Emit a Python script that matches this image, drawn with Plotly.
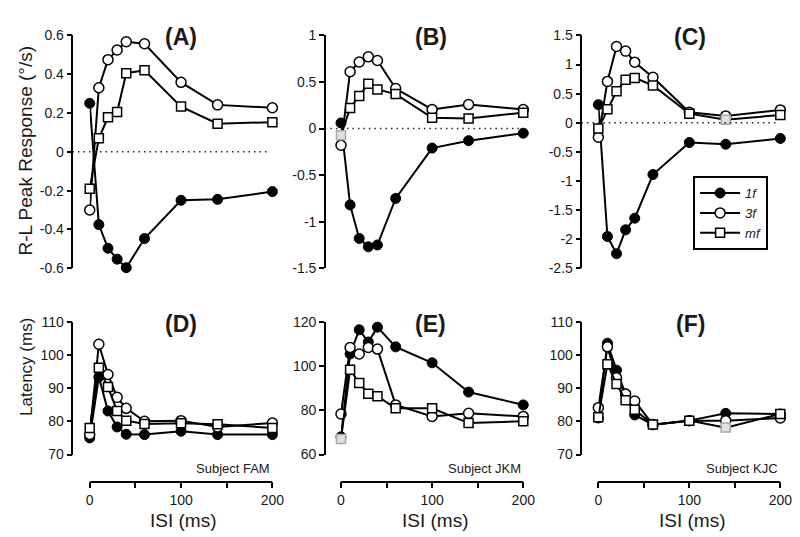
import plotly.graph_objects as go

W, H = 800, 537

# ---------------- data ----------------
isi = [0, 10, 20, 30, 40, 60, 100, 140, 200]

# Panel A (FAM, R-L peak response, deg/s)
A_1f = [0.25, -0.375, -0.497, -0.553, -0.597, -0.447, -0.25, -0.245, -0.205]
A_3f = [-0.30, 0.33, 0.475, 0.525, 0.567, 0.557, 0.358, 0.242, 0.227]
A_mf = [-0.19, 0.07, 0.178, 0.205, 0.405, 0.42, 0.233, 0.145, 0.153]

# Panel B (JKM)
B_1f = [0.06, -0.82, -1.18, -1.27, -1.25, -0.75, -0.21, -0.13, -0.05]
B_3f = [-0.18, 0.61, 0.715, 0.77, 0.73, 0.43, 0.205, 0.257, 0.205]
B_mf = [-0.073, 0.22, 0.35, 0.48, 0.42, 0.37, 0.115, 0.108, 0.17]

# Panel C (KJC)
C_1f = [0.31, -1.955, -2.25, -1.84, -1.64, -0.89, -0.34, -0.37, -0.27]
C_3f = [-0.25, 0.71, 1.31, 1.23, 1.04, 0.78, 0.18, 0.117, 0.22]
C_mf = [-0.10, 0.23, 0.54, 0.74, 0.77, 0.64, 0.156, 0.05, 0.134]

# Panel D (FAM latency, ms)
D_1f = [75, 93.3, 83.1, 78.3, 76.1, 76, 77, 76, 76]
D_3f = [76, 103.2, 94.1, 87.2, 83.9, 80, 80.2, 78.3, 79.5]
D_mf = [78, 96.1, 90.3, 83.1, 80.2, 79.2, 79.4, 79.1, 78]

# Panel E (JKM latency)
E_1f = [68, 105.4, 116.3, 110.8, 117.5, 108.6, 101.4, 88.2, 82.4]
E_3f = [78.3, 108.3, 105.4, 108.3, 107.6, 82.4, 77.2, 78.6, 77.2]
E_mf = [67, 98.3, 92.3, 87.4, 86.3, 80.9, 80.9, 74.2, 75]

# Panel F (KJC latency)
F_1f = [81, 103.5, 95.4, 88.2, 81.9, 79, 80.2, 82.4, 82.2]
F_3f = [84.1, 102.4, 93.1, 88.2, 86.1, 79, 80.2, 80.2, 81]
F_mf = [81.2, 97.2, 91.2, 86.3, 83.5, 79, 80.2, 78.1, 82.2]

series_names = ["1f", "3f", "mf"]
panel_letters = ["A", "B", "C", "D", "E", "F"]
subjects = ["Subject FAM", "Subject JKM", "Subject KJC"]

top_ticks = [
    [-0.6, -0.4, -0.2, 0, 0.2, 0.4, 0.6],
    [-1.5, -1, -0.5, 0, 0.5, 1],
    [-2.5, -2, -1.5, -1, -0.5, 0, 0.5, 1, 1.5],
]
bottom_ticks = [
    [70, 80, 90, 100, 110],
    [60, 80, 100, 120],
    [70, 80, 90, 100, 110],
]
x_ticks = [0, 50, 100, 150, 200]
x_ticklabels = ["0", "", "100", "", "200"]

# gray (flagged) mf points per panel (indices)
gray_mf = {"B": [0], "C": [7], "E": [0], "F": [7]}

panels = {
    "A": [A_1f, A_3f, A_mf], "B": [B_1f, B_3f, B_mf], "C": [C_1f, C_3f, C_mf],
    "D": [D_1f, D_3f, D_mf], "E": [E_1f, E_3f, E_mf], "F": [F_1f, F_3f, F_mf],
}

# ---------------- layout geometry (pixels) ----------------
def px(x):
    return x / W

def py(y):
    return 1 - y / H

col_x = [(79.3, 265.7), (335.7, 521.7), (598.3, 784.0)]
col_yaxis = [61.7, 319.3, 581.0]
row_y = [(20, 260), (315, 452)]
xaxis_line_y = 480

FONT = "Liberation Sans, Arial, sans-serif"

fig = go.Figure()

styles = {
    "1f": dict(symbol="circle", size=10, color="black", line=dict(color="black", width=1)),
    "3f": dict(symbol="circle", size=10, color="white", line=dict(color="black", width=1.5)),
    "mf": dict(symbol="square", size=9, color="white", line=dict(color="black", width=1.5)),
}

for i, letter in enumerate(panel_letters):
    n = i + 1
    for s, vals in zip(series_names, panels[letter]):
        m = dict(styles[s])
        if s == "mf" and letter in gray_mf:
            lc = ["black"] * len(vals)
            fc = ["white"] * len(vals)
            for k in gray_mf[letter]:
                lc[k] = "#a8a8a8"
                fc[k] = "#e0e0e0"
            m["line"] = dict(color=lc, width=1.5)
            m["color"] = fc
        fig.add_trace(go.Scatter(
            x=isi, y=vals, mode="lines+markers",
            line=dict(color="black", width=2),
            marker=m, name=s,
            xaxis=f"x{n}", yaxis=f"y{n}",
            cliponaxis=False,
            showlegend=(letter == "C"),
        ))

layout = dict(
    width=W, height=H, margin=dict(l=0, r=0, t=0, b=0),
    paper_bgcolor="white", plot_bgcolor="white",
    font=dict(family=FONT, color="#1a1a1a", size=14),
    showlegend=True,
    legend=dict(
        x=px(695), y=py(165), xanchor="left", yanchor="top",
        bordercolor="black", borderwidth=2, bgcolor="white",
        font=dict(family=FONT, size=13, style="italic", color="#1a1a1a"),
        tracegroupgap=0, itemwidth=40, entrywidth=82, entrywidthmode="pixels",
    ),
)

annotations = []
shapes = []
for i, letter in enumerate(panel_letters):
    n = i + 1
    r = i // 3
    c = i % 3
    x0, x1 = col_x[c]
    y0, y1 = row_y[r]
    xa = dict(domain=[px(x0), px(x1)], range=[0, 200], showgrid=False, zeroline=False)
    if r == 0:
        xa.update(visible=False, anchor=f"y{n}")
        ticks = top_ticks[c]
    else:
        xa.update(anchor="free", position=py(xaxis_line_y), showline=True,
                  linecolor="black", linewidth=1.5, ticks="outside", ticklen=6,
                  tickwidth=1.5, tickcolor="black", tickvals=x_ticks,
                  ticktext=x_ticklabels, tickfont=dict(size=14, family=FONT))
        ticks = bottom_ticks[c]
    ya = dict(domain=[py(y1), py(y0)], range=[min(ticks), max(ticks)],
              anchor="free", position=px(col_yaxis[c]), showline=True,
              linecolor="black", linewidth=1.5, ticks="outside", ticklen=5,
              tickwidth=1.5, tickcolor="black", tickvals=ticks,
              ticktext=[f"{t:g}" for t in ticks], showgrid=False, zeroline=False,
              tickfont=dict(size=14, family=FONT))
    layout[f"xaxis{n}"] = xa
    layout[f"yaxis{n}"] = ya

    # panel label
    lab_x = [172, 427.5, 692][c]
    lab_y = [22, 317][r]
    annotations.append(dict(text=f"<b>({letter})</b>", x=px(lab_x), y=py(lab_y),
                            xref="paper", yref="paper", showarrow=False,
                            xanchor="center", yanchor="middle",
                            font=dict(size=23, family=FONT, color="#1a1a1a")))
    if r == 0:
        shapes.append(dict(type="line", xref="paper", yref=f"y{n}",
                           x0=px(col_yaxis[c]), x1=px(x1 - 2), y0=0, y1=0,
                           line=dict(color="#222", width=1.5, dash="1.5px,4px")))
    else:
        annotations.append(dict(text=subjects[c], x=px(x1), y=py(466),
                                xref="paper", yref="paper", showarrow=False,
                                xanchor="right", yanchor="middle",
                                font=dict(size=13, family=FONT, color="#1a1a1a")))
        annotations.append(dict(text="ISI (ms)", x=px((x0 + x1) / 2 + 3), y=py(520),
                                xref="paper", yref="paper", showarrow=False,
                                xanchor="center", yanchor="middle",
                                font=dict(size=19, family=FONT, color="#1a1a1a")))

annotations.append(dict(text="R-L Peak Response (°/s)", x=px(14), y=py(139),
                        xref="paper", yref="paper", showarrow=False, textangle=-90,
                        xanchor="center", yanchor="middle",
                        font=dict(size=19, family=FONT, color="#1a1a1a")))
annotations.append(dict(text="Latency (ms)", x=px(14), y=py(362),
                        xref="paper", yref="paper", showarrow=False, textangle=-90,
                        xanchor="center", yanchor="middle",
                        font=dict(size=17, family=FONT, color="#1a1a1a")))

layout["annotations"] = annotations
layout["shapes"] = shapes
fig.update_layout(**layout)

fig.write_html("out.html")
